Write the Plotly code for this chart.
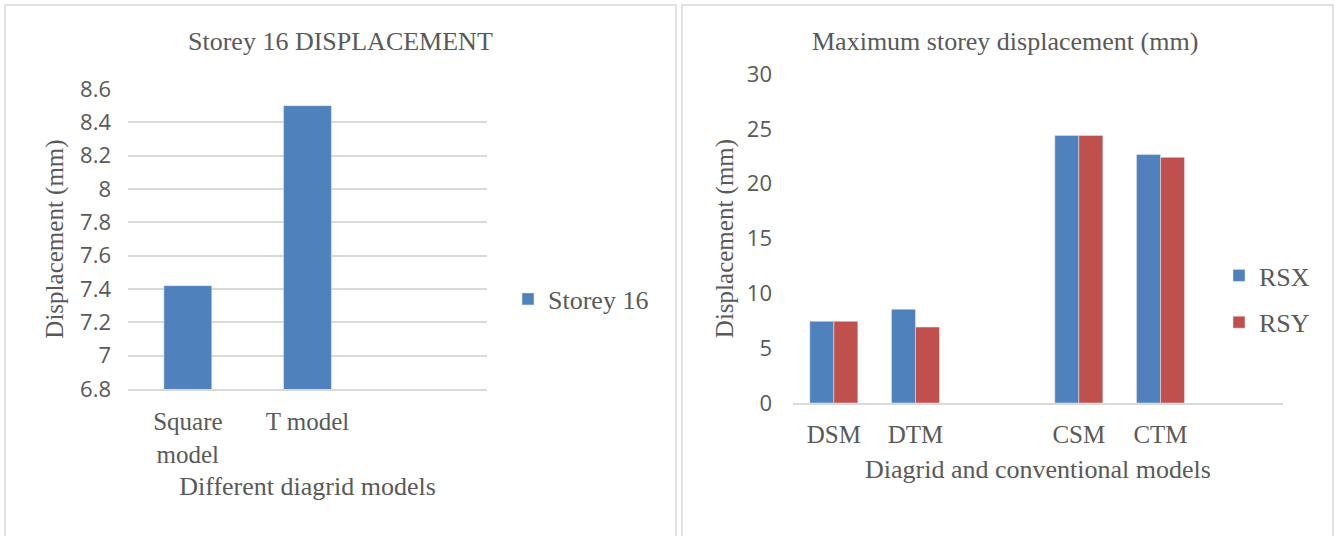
import plotly.graph_objects as go

W, H = 1336, 536

# ---------------- data ----------------
left_title = "Storey 16 DISPLACEMENT"
left_categories = ["Square<br>model", "T model"]
left_series = "Storey 16"
left_values = [7.42, 8.50]
left_yticks = [6.8, 7.0, 7.2, 7.4, 7.6, 7.8, 8.0, 8.2, 8.4, 8.6]
left_yticklabels = ["6.8", "7", "7.2", "7.4", "7.6", "7.8", "8", "8.2", "8.4", "8.6"]

right_title = "Maximum storey displacement (mm)"
right_categories = ["DSM", "DTM", "CSM", "CTM"]
right_axis_order = ["DSM", "DTM", " ", "CSM", "CTM"]
rsx_values = [7.45, 8.55, 24.4, 22.65]
rsy_values = [7.45, 6.92, 24.4, 22.40]
right_yticks = [0, 5, 10, 15, 20, 25, 30]

# ---------------- style ----------------
BLUE = "#4F81BD"
RED = "#C0504D"
TXT = "#595959"
GRID = "#D9D9D9"
SERIF = "Liberation Serif, Times New Roman, serif"
SANS = "Open Sans, Lato, sans-serif"


def px_x(p):
    return p / W


def px_y(p):
    return 1 - p / H


fig = go.Figure()

fig.add_trace(go.Bar(
    x=left_categories, y=left_values, name=left_series,
    marker_color=BLUE, width=0.4, xaxis="x", yaxis="y", legend="legend",
))
fig.add_trace(go.Bar(
    x=right_categories, y=rsx_values, name="RSX", marker_color=BLUE,
    width=0.294, offset=-0.294, xaxis="x2", yaxis="y2",
    legend="legend2", legendgroup="rsx",
))
fig.add_trace(go.Bar(
    x=right_categories, y=rsy_values, name="RSY", marker_color=RED,
    width=0.294, offset=0.0, xaxis="x2", yaxis="y2",
    legend="legend2", legendgroup="rsy",
))

serif_font = dict(family=SERIF, size=25, color=TXT)
sans_font = dict(family=SANS, size=22, color=TXT)

fig.update_layout(
    width=W, height=H,
    margin=dict(l=0, r=0, t=0, b=0, autoexpand=False),
    paper_bgcolor="white", plot_bgcolor="white",
    barmode="group",
    showlegend=True,
    xaxis=dict(
        domain=[px_x(128), px_x(487)], anchor="y", type="category",
        range=[-0.5, 2.5], showgrid=False, ticks="", automargin=False,
        showline=True, linecolor=GRID, linewidth=2,
        tickfont=serif_font, ticklabelstandoff=9,
        title=dict(text="Different diagrid models", font=dict(family=SERIF, size=26, color=TXT), standoff=10),
    ),
    yaxis=dict(
        domain=[px_y(389), px_y(89)], anchor="x", range=[6.8, 8.6],
        tickvals=left_yticks, ticktext=left_yticklabels, automargin=False,
        showgrid=True, gridcolor=GRID, gridwidth=2, zeroline=False,
        showline=False, ticks="", tickfont=sans_font, ticklabelstandoff=16,
        title=dict(text="Displacement (mm)", font=dict(family=SERIF, size=25, color=TXT), standoff=9),
    ),
    xaxis2=dict(
        domain=[px_x(793), px_x(1283)], anchor="y2", type="category",
        categoryorder="array", categoryarray=right_axis_order,
        range=[-0.5, 5.5], showgrid=False, ticks="", automargin=False,
        showline=True, linecolor=GRID, linewidth=2,
        tickfont=serif_font, ticklabelstandoff=8,
        title=dict(text="Diagrid and conventional models", font=dict(family=SERIF, size=26, color=TXT), standoff=13),
    ),
    yaxis2=dict(
        domain=[px_y(403), px_y(74)], anchor="x2", range=[0, 30],
        tickvals=right_yticks, automargin=False,
        showgrid=False, zeroline=False, showline=False, ticks="",
        tickfont=sans_font, ticklabelstandoff=20,
        title=dict(text="Displacement (mm)", font=dict(family=SERIF, size=25, color=TXT), standoff=6),
    ),
    legend=dict(
        x=px_x(508), y=px_y(299), xanchor="left", yanchor="middle",
        font=dict(family=SERIF, size=26, color=TXT), bgcolor="rgba(0,0,0,0)",
    ),
    legend2=dict(
        x=px_x(1219), y=px_y(299), xanchor="left", yanchor="middle",
        font=dict(family=SERIF, size=26, color=TXT), bgcolor="rgba(0,0,0,0)",
        tracegroupgap=10,
    ),
    annotations=[
        dict(text=left_title, x=px_x(340), y=px_y(41), xref="paper", yref="paper",
             xanchor="center", yanchor="middle", showarrow=False,
             font=dict(family=SERIF, size=26, color=TXT)),
        dict(text=right_title, x=px_x(1005), y=px_y(41), xref="paper", yref="paper",
             xanchor="center", yanchor="middle", showarrow=False,
             font=dict(family=SERIF, size=26, color=TXT)),
    ],
    shapes=[
        dict(type="rect", xref="paper", yref="paper",
             x0=px_x(5), x1=px_x(676), y0=-0.05, y1=px_y(5),
             line=dict(color=GRID, width=1.5), fillcolor="rgba(0,0,0,0)", layer="below"),
        dict(type="rect", xref="paper", yref="paper",
             x0=px_x(682), x1=px_x(1333), y0=-0.05, y1=px_y(5),
             line=dict(color=GRID, width=1.5), fillcolor="rgba(0,0,0,0)", layer="below"),
    ],
)

fig.write_html(
    "out.html",
    config={"displayModeBar": False},
    post_script="document.body.style.margin='0';document.body.style.overflow='hidden';",
)
